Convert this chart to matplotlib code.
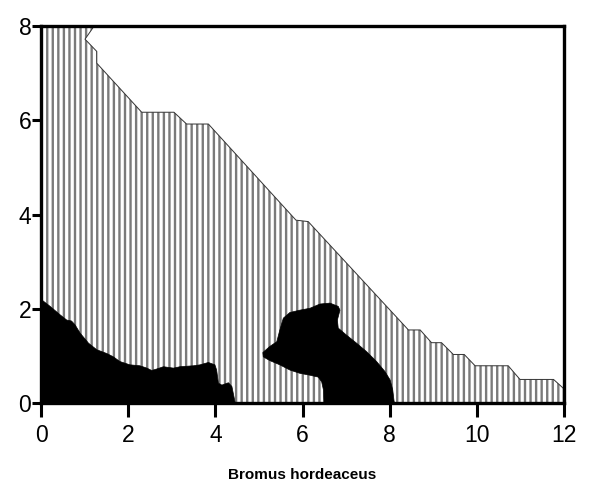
import matplotlib
matplotlib.use("Agg")
import matplotlib.pyplot as plt

plt.rcParams['font.family'] = ['Liberation Sans', 'DejaVu Sans']
plt.rcParams['hatch.linewidth'] = 1.7

# Upper boundary of the hatched (vertical-line) region
hatch_x = [0.00, 1.22, 1.01, 1.28, 1.28, 2.31, 3.05, 3.34, 3.84, 5.85, 6.13,
           8.43, 8.70, 8.96, 9.19, 9.46, 9.71, 9.96, 10.72, 10.99, 11.76, 12.00]
hatch_y = [8.00, 8.00, 7.72, 7.46, 7.21, 6.17, 6.17, 5.92, 5.92, 3.88, 3.85,
           1.55, 1.55, 1.28, 1.28, 1.03, 1.03, 0.79, 0.79, 0.50, 0.50, 0.30]

# Black region 1 (left, along the x axis)
blob1_x = [0.00, 0.00, 0.21, 0.44, 0.59, 0.70, 0.78, 0.90, 1.09, 1.28, 1.51, 1.66,
           1.81, 2.04, 2.27, 2.43, 2.54, 2.65, 2.81, 3.04, 3.19, 3.50, 3.65, 3.84,
           3.99, 4.03, 4.07, 4.15, 4.30, 4.38, 4.45, 4.46]
blob1_y = [0.00, 2.20, 2.05, 1.87, 1.76, 1.74, 1.66, 1.48, 1.27, 1.13, 1.05, 0.98,
           0.88, 0.81, 0.79, 0.74, 0.69, 0.72, 0.77, 0.74, 0.77, 0.79, 0.81, 0.86,
           0.81, 0.70, 0.42, 0.38, 0.43, 0.35, 0.03, 0.00]

# Black region 2 (middle blob)
blob2_x = [5.09, 5.25, 5.41, 5.48, 5.56, 5.71, 5.94, 6.17, 6.40, 6.63, 6.82, 6.86,
           6.80, 6.82, 7.01, 7.24, 7.47, 7.70, 7.89, 8.01, 8.07, 8.10, 8.11, 6.49,
           6.48, 6.44, 6.36, 6.17, 5.94, 5.71, 5.48, 5.25, 5.10]
blob2_y = [1.07, 1.20, 1.30, 1.55, 1.80, 1.92, 1.97, 2.01, 2.10, 2.12, 2.05, 1.97,
           1.76, 1.59, 1.44, 1.27, 1.09, 0.88, 0.67, 0.49, 0.28, 0.05, 0.00, 0.00,
           0.28, 0.45, 0.55, 0.59, 0.63, 0.70, 0.81, 0.90, 0.98]

x_ticks = [0, 2, 4, 6, 8, 10, 12]
y_ticks = [0, 2, 4, 6, 8]
x_label = "Bromus hordeaceus"

fig = plt.figure(figsize=(5.89, 4.79), dpi=100)
ax = fig.add_axes([41/589, 76/479, 523/589, 377/479])

poly_x = hatch_x + [12.0, 0.0]
poly_y = hatch_y + [0.0, 0.0]
ax.fill(poly_x, poly_y, facecolor='white', edgecolor='#7a7a7a', hatch='|||',
        linewidth=0, zorder=1)
ax.plot(hatch_x, hatch_y, color='#333333', linewidth=0.7, zorder=2)

ax.fill(blob1_x, blob1_y, color='black', linewidth=0.5, zorder=3)
ax.fill(blob2_x, blob2_y, color='black', linewidth=0.5, zorder=3)

ax.set_xlim(0, 12)
ax.set_ylim(0, 8)
ax.set_xticks(x_ticks)
ax.set_yticks(y_ticks)
for s in ax.spines.values():
    s.set_linewidth(2.4)
    s.set_zorder(5)
ax.tick_params(axis='x', length=10, width=2.2, labelsize=16.5, pad=5)
ax.tick_params(axis='y', length=6.5, width=2.2, labelsize=16.5, pad=0.5)
ax.set_xlabel(x_label, fontsize=11, fontweight='bold', labelpad=15)

fig.savefig("out.png", dpi=100)
